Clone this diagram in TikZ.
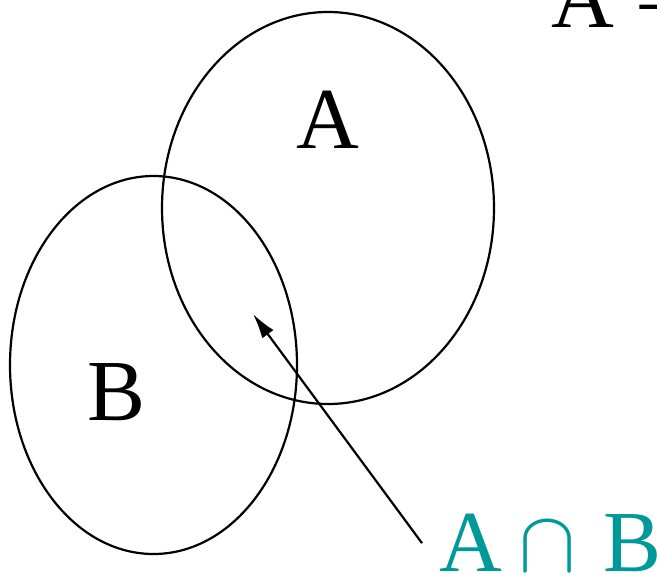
\documentclass[tikz,border=0pt]{standalone}
\usepackage{fontspec}
\usepackage{unicode-math}
\setmainfont{Liberation Serif}
\usetikzlibrary{arrows.meta,shapes.geometric}
\definecolor{interteal}{HTML}{009999}
\tikzset{
  conjunto/.style = {draw, ellipse, line width=2.2pt, inner sep=0pt},
  letra/.style    = {font=\fontsize{87}{96}\selectfont, inner sep=0pt},
  etiq/.style     = {letra, text=interteal, inner xsep=17pt, inner ysep=0pt},
  flecha/.style   = {-{Latex[length=25pt,width=14pt]}, line width=2.2pt},
}
\begin{document}
\begin{tikzpicture}[x=1pt,y=-1pt]
  \useasboundingbox (0,0) rectangle (657,574);
  % conjuntos
  \node[conjunto, minimum width=332pt, minimum height=392pt] (setA) at (328,208) {};
  \node[conjunto, minimum width=287pt, minimum height=378pt] (setB) at (153.5,365) {};
  \node[letra, anchor=base] (labA) at (328,148) {A};
  \node[letra, anchor=base] (labB) at (117,420) {B};
  % definicion (cortada arriba)
  \node[letra, anchor=base west] (defA) at (551,27) {A =};
  % interseccion
  \node[etiq, anchor=base west] (lblAB) at (422,571) {A\hspace{16pt}$\cap$\hspace{27pt}B};
  \coordinate (tip) at (253,314);
  \draw[flecha] (lblAB.west) -- (tip);
\end{tikzpicture}
\end{document}
